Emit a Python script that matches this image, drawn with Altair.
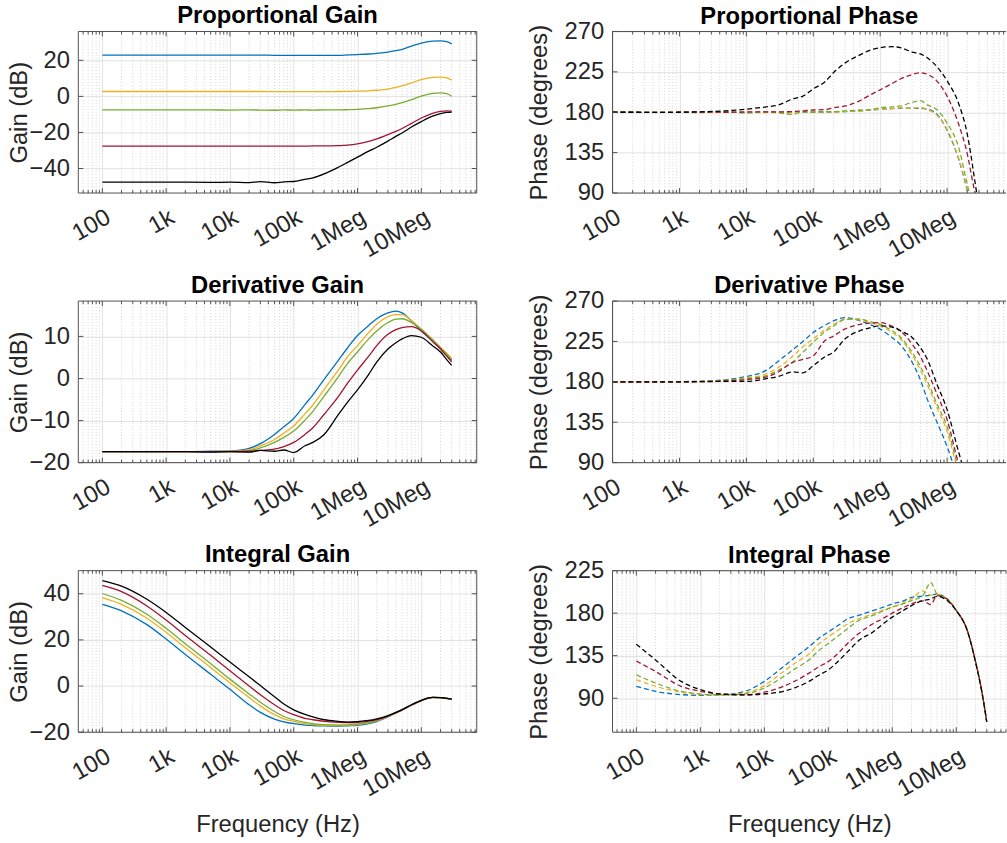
import altair as alt
import pandas as pd

FONT = "Liberation Sans"
FS = 24

# frequency points (Hz) shared by every curve
FREQ = [100, 200, 500, 1e3, 2e3, 5e3, 1e4, 2e4, 3e4, 5e4, 7e4, 1e5, 1.5e5, 2e5, 3e5,
        5e5, 7e5, 1e6, 1.5e6, 2e6, 3e6, 4e6, 5e6, 7e6, 1e7, 1.5e7, 2e7, 2.5e7, 3e7]

SERIES = ["run 1", "run 2", "run 3", "run 4", "run 5"]
COLORS = ["#0072BD", "#EDB120", "#77AC30", "#A2142F", "#000000"]

TICK_HZ = [100, 1000, 10000, 100000, 1000000, 10000000]
TICK_TEXT = ["100", "1k", "10k", "100k", "1Meg", "10Meg"]

# Proportional gain (dB)
PG_1 = [22.9, 22.9, 22.9, 22.9, 22.9, 22.9, 22.9, 22.9, 22.9, 22.8, 22.8, 22.8, 22.8, 22.7, 22.7,
        22.8, 23.0, 23.2, 23.5, 23.9, 24.6, 25.4, 26.1, 27.9, 29.6, 30.6, 30.8, 30.4, 29.1]
PG_2 = [2.7, 2.7, 2.7, 2.7, 2.7, 2.7, 2.7, 2.7, 2.7, 2.6, 2.6, 2.6, 2.6, 2.6, 2.6,
        2.7, 2.8, 2.9, 3.1, 3.4, 4.0, 5.0, 5.8, 7.5, 9.3, 10.5, 10.7, 10.2, 9.0]
PG_3 = [-7.5, -7.5, -7.5, -7.5, -7.5, -7.5, -7.6, -7.5, -7.6, -7.7, -7.5, -7.6, -7.5, -7.6, -7.5,
        -7.5, -7.4, -7.2, -6.8, -6.3, -5.3, -4.4, -3.5, -1.8, 0.2, 1.7, 2.0, 1.5, 0.1]
PG_4 = [-27.6, -27.6, -27.6, -27.6, -27.6, -27.6, -27.6, -27.6, -27.6, -27.6, -27.6, -27.6, -27.6, -27.5, -27.5,
        -27.3, -27.0, -26.3, -25.0, -23.6, -21.2, -19.4, -17.8, -15.0, -12.0, -9.4, -8.3, -8.0, -8.2]
PG_5 = [-47.5, -47.5, -47.6, -47.6, -47.6, -47.7, -47.6, -47.8, -47.3, -47.9, -47.4, -47.2, -46.0, -45.2, -43.0,
        -39.3, -36.6, -33.7, -30.4, -28.2, -24.8, -22.2, -20.3, -17.0, -14.0, -11.0, -9.6, -8.9, -8.7]

# Proportional phase (degrees)
PP_1 = [180.0, 180.0, 179.8, 180.0, 179.9, 180.1, 179.6, 180.2, 179.8, 180.3, 179.9, 180.4, 180.0, 180.5, 180.8,
        181.5, 182.3, 183.3, 184.0, 184.5, 184.5, 184.3, 183.5, 178.0, 160.0, 127.0, 93.0, 62.0, 42.0]
PP_2 = [180.0, 180.0, 179.8, 180.0, 180.1, 179.8, 180.2, 179.6, 180.1, 179.8, 180.4, 180.0, 180.5, 180.2, 181.0,
        181.5, 182.5, 183.5, 184.0, 185.0, 184.5, 185.5, 183.0, 177.0, 161.0, 128.0, 94.0, 63.0, 43.0]
PP_3 = [180.0, 180.0, 179.9, 180.1, 179.7, 180.2, 179.5, 180.3, 179.3, 177.5, 180.8, 180.0, 181.0, 180.6, 181.5,
        182.5, 183.0, 185.0, 186.0, 187.0, 191.0, 193.0, 188.5, 183.0, 168.0, 140.0, 100.0, 70.0, 48.0]
PP_4 = [180.0, 180.0, 179.8, 180.0, 180.2, 180.0, 180.3, 180.5, 180.4, 180.8, 181.5, 182.5, 183.0, 185.0, 187.0,
        193.0, 199.0, 205.0, 212.0, 217.0, 222.0, 224.0, 222.5, 215.0, 198.0, 166.0, 134.0, 97.0, 72.0]
PP_5 = [180.0, 180.0, 179.8, 180.0, 180.5, 181.6, 183.5, 186.0, 188.0, 195.0, 198.0, 206.0, 214.0, 224.0, 235.0,
        244.0, 249.0, 252.0, 253.0, 252.0, 247.0, 245.0, 241.0, 231.0, 215.0, 189.0, 156.0, 112.0, 72.0]

# Derivative gain (dB)
DG_1 = [-17.4, -17.4, -17.4, -17.4, -17.4, -17.3, -17.2, -16.6, -15.5, -13.3, -11.5, -9.5, -6.2, -3.9, -0.2,
        4.3, 7.3, 10.2, 12.6, 14.2, 15.6, 16.0, 15.6, 13.7, 11.3, 8.9, 7.0, 5.5, 4.3]
DG_2 = [-17.4, -17.4, -17.4, -17.4, -17.4, -17.4, -17.3, -17.0, -16.0, -14.5, -13.0, -11.3, -8.4, -6.3, -2.6,
        2.0, 5.2, 7.8, 10.9, 12.9, 14.7, 15.2, 15.2, 13.8, 11.7, 9.3, 7.4, 6.0, 4.7]
DG_3 = [-17.4, -17.4, -17.4, -17.4, -17.4, -17.4, -17.4, -17.2, -16.5, -15.2, -14.0, -12.5, -9.9, -7.8, -4.2,
        0.4, 3.6, 6.3, 9.4, 11.3, 13.3, 14.1, 14.2, 13.3, 11.7, 9.2, 7.3, 5.8, 4.5]
DG_4 = [-17.4, -17.4, -17.4, -17.4, -17.4, -17.4, -17.4, -17.3, -17.1, -16.8, -16.2, -15.2, -13.3, -11.7, -8.5,
        -4.3, -1.1, 2.0, 5.3, 7.8, 10.5, 11.6, 12.1, 12.3, 11.3, 8.8, 7.0, 5.3, 3.9]
DG_5 = [-17.4, -17.4, -17.4, -17.4, -17.4, -17.5, -17.4, -17.5, -17.1, -17.3, -17.0, -17.6, -16.0, -15.2, -13.3,
        -8.6, -5.6, -2.7, 1.0, 3.9, 7.0, 8.5, 9.4, 10.2, 9.8, 7.8, 6.3, 4.5, 3.1]

# Derivative phase (degrees)
DP_1 = [180.0, 180.0, 180.1, 180.3, 180.6, 182.5, 186.0, 193.0, 203.0, 216.0, 225.0, 235.0, 243.0, 248.0, 251.5,
        248.0, 244.0, 238.8, 229.5, 221.5, 202.0, 182.0, 161.6, 135.8, 108.0, 70.0, 50.0, 40.0, 30.0]
DP_2 = [180.0, 180.0, 180.1, 180.2, 180.5, 182.0, 184.5, 189.0, 196.0, 209.0, 219.0, 228.0, 238.0, 244.0, 249.8,
        249.0, 246.0, 242.4, 235.0, 228.0, 210.0, 193.0, 178.0, 152.0, 125.0, 78.0, 55.0, 42.0, 32.0]
DP_3 = [180.0, 180.0, 180.0, 180.2, 180.4, 181.5, 183.5, 187.0, 193.0, 202.0, 213.0, 224.0, 236.0, 242.0, 249.5,
        250.0, 247.0, 244.0, 237.0, 230.0, 213.0, 197.0, 182.0, 156.0, 130.0, 82.0, 56.0, 43.0, 33.0]
DP_4 = [180.0, 180.0, 180.0, 180.1, 180.3, 181.0, 182.5, 185.5, 191.0, 202.0, 205.0, 209.0, 226.0, 231.0, 239.0,
        244.0, 245.5, 246.0, 242.0, 237.0, 222.0, 208.0, 193.0, 167.0, 138.0, 88.0, 62.0, 46.0, 35.0]
DP_5 = [180.0, 180.0, 180.0, 180.0, 180.2, 180.5, 180.5, 183.5, 186.0, 191.0, 190.0, 198.0, 208.0, 213.0, 228.0,
        237.0, 240.0, 242.4, 241.0, 237.0, 229.5, 218.0, 206.0, 178.0, 149.0, 101.0, 70.0, 52.0, 40.0]

# Integral gain (dB)
IG_1 = [35.4, 32.6, 26.6, 20.4, 13.7, 5.1, -1.4, -8.1, -11.4, -14.3, -15.5, -16.3, -16.9, -17.1, -17.3,
        -17.4, -17.2, -17.0, -16.3, -15.4, -13.4, -11.7, -10.4, -8.3, -6.4, -5.0, -5.0, -5.3, -5.8]
IG_2 = [38.3, 35.4, 29.4, 23.3, 16.6, 8.0, 1.4, -5.0, -8.6, -12.4, -14.2, -15.3, -16.3, -16.7, -17.0,
        -17.1, -17.0, -16.7, -16.0, -15.1, -13.2, -11.6, -10.3, -8.2, -6.3, -4.9, -5.0, -5.3, -5.7]
IG_3 = [40.1, 37.1, 31.1, 25.0, 18.3, 9.7, 3.0, -3.4, -7.0, -11.0, -13.2, -14.6, -15.7, -16.3, -16.7,
        -16.9, -16.8, -16.4, -15.7, -14.9, -13.1, -11.6, -10.3, -8.2, -6.3, -4.9, -5.0, -5.3, -5.7]
IG_4 = [43.6, 40.9, 34.7, 28.6, 21.9, 13.3, 6.6, 0.0, -3.8, -8.1, -10.6, -12.4, -14.0, -14.6, -15.3,
        -15.7, -15.8, -15.7, -15.2, -14.6, -13.0, -11.5, -10.3, -8.2, -6.3, -4.9, -5.0, -5.3, -5.7]
IG_5 = [45.7, 43.3, 37.6, 31.9, 25.4, 16.9, 10.4, 4.0, 0.2, -4.6, -7.8, -10.3, -12.3, -13.4, -14.6,
        -15.3, -15.6, -15.4, -14.9, -14.2, -12.8, -11.4, -10.2, -8.1, -6.2, -4.9, -5.0, -5.3, -5.7]

# Integral phase (degrees)
IP_1 = [102.6, 97.3, 93.8, 93.1, 93.5, 97.3, 107.8, 123.5, 133.0, 144.4, 153.0, 160.1, 168.0, 174.1, 177.6,
        182.8, 186.0, 189.8, 193.0, 196.7, 198.0, 199.0, 200.2, 195.5, 183.0, 161.0, 129.0, 98.0, 65.0]
IP_2 = [109.5, 102.6, 96.3, 93.8, 93.5, 95.6, 103.3, 118.3, 127.0, 136.8, 147.0, 154.9, 163.0, 168.8, 174.1,
        179.3, 183.0, 186.3, 191.0, 195.0, 203.7, 199.0, 200.2, 195.5, 183.0, 161.0, 129.0, 98.0, 65.0]
IP_3 = [114.8, 106.1, 97.3, 94.5, 93.5, 94.5, 100.8, 113.0, 121.0, 130.5, 140.0, 147.9, 157.0, 163.6, 172.3,
        177.6, 182.0, 186.3, 190.0, 193.3, 198.5, 212.4, 200.2, 196.0, 183.0, 161.0, 129.0, 98.0, 65.0]
IP_4 = [129.4, 118.3, 102.6, 97.3, 94.5, 93.5, 96.3, 102.6, 108.0, 116.5, 123.0, 128.7, 139.0, 147.9, 158.4,
        168.8, 174.0, 180.0, 186.0, 189.8, 193.0, 189.0, 198.5, 195.5, 183.0, 161.0, 129.0, 98.0, 65.0]
IP_5 = [147.2, 130.5, 107.8, 99.1, 94.5, 93.5, 94.5, 97.3, 101.0, 107.8, 114.0, 120.0, 130.5, 139.0, 151.0,
        160.1, 168.0, 175.8, 183.0, 188.0, 193.3, 195.0, 197.8, 194.0, 182.8, 161.0, 128.5, 97.5, 65.0]

# styling
TEXT = "#262626"
FRAME = "#505050"
GRID = "#e2e2e2"
MINOR = "#d6d6d6"
H = 163
W_LEFT = 402
W_RIGHT = 397

LABEL_EXPR = "".join(f"datum.value == {v} ? '{t}' : " for v, t in zip(TICK_HZ, TICK_TEXT)) + "''"
ONE = pd.DataFrame({"k": [0]})


def panel(title, ytitle, curves, ydom, yticks, xdom, width, dashed, xtitle, yext, ytpad,
          toffset, right_edge=True):
    rows = [{"f": f, "v": v, "s": name}
            for name, vals in zip(SERIES, curves) for f, v in zip(FREQ, vals)]
    df = pd.DataFrame(rows)
    xsc = alt.Scale(type="log", domain=list(xdom), nice=False)
    ysc = alt.Scale(domain=list(ydom), nice=False, zero=False)

    major = [t for t in TICK_HZ if xdom[0] <= t <= xdom[1]]
    minor = [m * 10 ** e for e in range(1, 9) for m in range(2, 10)
             if xdom[0] <= m * 10 ** e <= xdom[1]]

    xaxis = alt.Axis(values=major, labelExpr=LABEL_EXPR, labelAngle=330, labelAlign="right",
                     labelBaseline="top", labelPadding=12, labelFontSize=FS, labelColor=TEXT,
                     labelFont=FONT, labelFlush=False, labelOverlap=False, labelBound=False,
                     ticks=False, domain=False, grid=True, gridColor=GRID, gridWidth=1,
                     minExtent=60, maxExtent=60,
                     title=xtitle if xtitle else None, titleFontSize=FS, titleFont=FONT,
                     titleFontWeight="normal", titleColor=TEXT, titlePadding=21)
    yaxis = alt.Axis(values=yticks, labelFontSize=FS, labelColor=TEXT, labelFont=FONT,
                     labelPadding=9, ticks=False, domain=False, grid=True, gridColor=GRID,
                     gridWidth=1, minExtent=yext, maxExtent=yext,
                     title=ytitle, titleFontSize=FS, titleFont=FONT, titleFontWeight="normal",
                     titleColor=TEXT, titlePadding=ytpad)

    # every layer carries the same axis definitions so that they merge cleanly
    fx = lambda: alt.X("f:Q", scale=xsc, axis=xaxis)
    fy = lambda: alt.Y("v:Q", scale=ysc, axis=yaxis)

    grid = alt.Chart(pd.DataFrame({"f": minor})).mark_rule(
        color=MINOR, strokeDash=[1, 2], strokeWidth=1).encode(x=fx())

    line_kw = dict(strokeWidth=1.3, clip=True, interpolate="monotone")
    if dashed:
        line_kw["strokeDash"] = [5, 3]
    lines = alt.Chart(df).mark_line(**line_kw).encode(
        x=fx(),
        y=fy(),
        color=alt.Color("s:N", scale=alt.Scale(domain=SERIES, range=COLORS), legend=None),
    )

    layers = [grid, lines]
    # inward tick marks on the bottom and top edges
    for vals, ln in ((major, 5), (minor, 3)):
        src = pd.DataFrame({"f": vals})
        layers.append(alt.Chart(src).mark_rule(color=FRAME).encode(
            x=fx(), y=alt.value(H), y2=alt.value(H - ln)))
        layers.append(alt.Chart(src).mark_rule(color=FRAME).encode(
            x=fx(), y=alt.value(0), y2=alt.value(ln)))
    # inward tick marks on the left (and right) edges
    ysrc = pd.DataFrame({"v": yticks})
    layers.append(alt.Chart(ysrc).mark_rule(color=FRAME).encode(
        y=fy(), x=alt.value(0), x2=alt.value(5)))
    if right_edge:
        layers.append(alt.Chart(ysrc).mark_rule(color=FRAME).encode(
            y=fy(), x=alt.value(width), x2=alt.value(width - 5)))

    # axes box
    layers.append(alt.Chart(ONE).mark_rule(color=FRAME).encode(
        x=alt.value(0), x2=alt.value(width), y=alt.value(0)))
    layers.append(alt.Chart(ONE).mark_rule(color=FRAME).encode(
        x=alt.value(0), x2=alt.value(width), y=alt.value(H)))
    layers.append(alt.Chart(ONE).mark_rule(color=FRAME).encode(
        x=alt.value(0), y=alt.value(0), y2=alt.value(H)))
    if right_edge:
        layers.append(alt.Chart(ONE).mark_rule(color=FRAME).encode(
            x=alt.value(width), y=alt.value(0), y2=alt.value(H)))

    return alt.layer(*layers).properties(
        width=width, height=H,
        title=alt.TitleParams(title, fontSize=FS, font=FONT, fontWeight="bold",
                              color="#000000", offset=toffset, anchor="middle", frame="group"),
    )


X_LEFT = (42, 7.4e7)
X_RIGHT = (100, 7.6e7)
X_INT = (42.5, 6.0e7)
PHASE_TICKS = [90, 135, 180, 225, 270]

# left column: gains, right column: phases (top tick label sits on the upper edge)
L = dict(yext=45, ytpad=2, toffset=3)
R = dict(yext=52, ytpad=10, toffset=-9, right_edge=False)

p1 = panel("Proportional Gain", "Gain (dB)", [PG_1, PG_2, PG_3, PG_4, PG_5],
           (-53.6, 36.0), [-40, -20, 0, 20], X_LEFT, W_LEFT, False, None, **L)
p2 = panel("Proportional Phase", "Phase (degrees)", [PP_1, PP_2, PP_3, PP_4, PP_5],
           (90, 270), PHASE_TICKS, X_RIGHT, W_RIGHT, True, None, **R)
p3 = panel("Derivative Gain", "Gain (dB)", [DG_1, DG_2, DG_3, DG_4, DG_5],
           (-20, 18.4), [-20, -10, 0, 10], X_LEFT, W_LEFT, False, None, **L)
p4 = panel("Derivative Phase", "Phase (degrees)", [DP_1, DP_2, DP_3, DP_4, DP_5],
           (90, 270), PHASE_TICKS, X_RIGHT, W_RIGHT, True, None, **R)
p5 = panel("Integral Gain", "Gain (dB)", [IG_1, IG_2, IG_3, IG_4, IG_5],
           (-20, 50), [-20, 0, 20, 40], X_LEFT, W_LEFT, False, "Frequency (Hz)", **L)
p6 = panel("Integral Phase", "Phase (degrees)", [IP_1, IP_2, IP_3, IP_4, IP_5],
           (54, 225), [90, 135, 180, 225], X_INT, W_RIGHT, True, "Frequency (Hz)", **R)

HS = 50
chart = alt.vconcat(
    alt.hconcat(p1, p2, spacing=HS),
    alt.hconcat(p3, p4, spacing=HS),
    alt.hconcat(p5, p6, spacing=HS),
    spacing=11,
).properties(
    padding={"left": 8, "top": 0, "right": 0, "bottom": 0},
    background="white",
).configure(font=FONT).configure_view(stroke=None)

chart.save("out.html", embed_options={"renderer": "svg", "actions": False})
